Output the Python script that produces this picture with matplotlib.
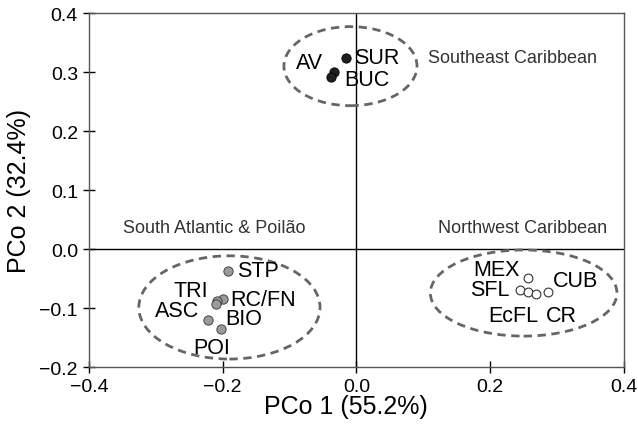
import matplotlib
matplotlib.use("Agg")
import matplotlib.pyplot as plt
from matplotlib.patches import Ellipse

plt.rcParams['font.family'] = ['Liberation Sans', 'DejaVu Sans']

# Southeast Caribbean
se_x = [-0.015, -0.033, -0.038]
se_y = [0.324, 0.300, 0.291]
se_labels = ["SUR", "BUC", "AV"]
se_label_pos = [(0.031, 0.324), (0.015, 0.288), (-0.070, 0.317)]

# South Atlantic & Poilão
sa_x = [-0.192, -0.200, -0.208, -0.210, -0.222, -0.203]
sa_y = [-0.038, -0.085, -0.088, -0.093, -0.120, -0.136]
sa_labels = ["STP", "RC/FN", "TRI", "BIO", "ASC", "POI"]
sa_label_pos = [(-0.148, -0.037), (-0.140, -0.086), (-0.248, -0.071),
                (-0.169, -0.118), (-0.268, -0.105), (-0.217, -0.167)]

# Northwest Caribbean
nw_x = [0.256, 0.245, 0.257, 0.269, 0.287]
nw_y = [-0.049, -0.069, -0.073, -0.077, -0.073]
nw_labels = ["MEX", "SFL", "EcFL", "CR", "CUB"]
nw_label_pos = [(0.209, -0.034), (0.199, -0.068), (0.234, -0.113),
                (0.307, -0.113), (0.327, -0.054)]

# group ellipses: center x, center y, width, height
ell_cx = [-0.009, -0.190, 0.250]
ell_cy = [0.310, -0.099, -0.0746]
ell_w = [0.199, 0.271, 0.279]
ell_h = [0.134, 0.175, 0.146]

region_names = ["Southeast Caribbean", "South Atlantic & Poilão", "Northwest Caribbean"]
region_pos = [(0.234, 0.324), (-0.213, 0.036), (0.249, 0.036)]

fig = plt.figure(figsize=(6.38, 4.39), dpi=100)
ax = fig.add_axes([0.1395, 0.1617, 0.8385, 0.8063])

ax.axhline(0, color='black', lw=1.0, zorder=1)
ax.axvline(0, color='black', lw=1.0, zorder=1)

for cx, cy, w, h in zip(ell_cx, ell_cy, ell_w, ell_h):
    ax.add_patch(Ellipse((cx, cy), w, h, fill=False, ls=(0, (3, 2)),
                         ec='#666666', lw=2.0, zorder=2))

ax.scatter(se_x, se_y, s=45, c='#1e1e1e', edgecolors='black', linewidths=0.6, zorder=3)
ax.scatter(sa_x, sa_y, s=45, c='#9a9a9a', edgecolors='#333333', linewidths=0.6, zorder=3)
ax.scatter(nw_x, nw_y, s=40, c='white', edgecolors='#333333', linewidths=0.8, zorder=3)

for labels, pos in [(se_labels, se_label_pos), (sa_labels, sa_label_pos), (nw_labels, nw_label_pos)]:
    for lab, (lx, ly) in zip(labels, pos):
        ax.text(lx, ly, lab, fontsize=15.5, ha='center', va='center', zorder=4)

for name, (rx, ry) in zip(region_names, region_pos):
    ax.text(rx, ry, name, fontsize=13, ha='center', va='center', color='#333333')

ax.set_xlim(-0.4, 0.4)
ax.set_ylim(-0.2, 0.4)
ax.set_xticks([-0.4, -0.2, 0.0, 0.2, 0.4])
ax.set_yticks([-0.2, -0.1, 0.0, 0.1, 0.2, 0.3, 0.4])
ax.set_xticklabels(['\u22120.4', '\u22120.2', '0.0', '0.2', '0.4'])
ax.set_yticklabels(['\u22120.2', '\u22120.1', '0.0', '0.1', '0.2', '0.3', '0.4'])
ax.tick_params(direction='inout', length=8, width=1, labelsize=14, pad=4)
for sp in ax.spines.values():
    sp.set_color('#555555')
    sp.set_linewidth(1.0)
ax.set_xlabel('PCo 1 (55.2%)', fontsize=18)
ax.xaxis.set_label_coords(0.481, -0.077)
ax.set_ylabel('PCo 2 (32.4%)', fontsize=18, labelpad=6)

fig.savefig('out.png', dpi=100)
